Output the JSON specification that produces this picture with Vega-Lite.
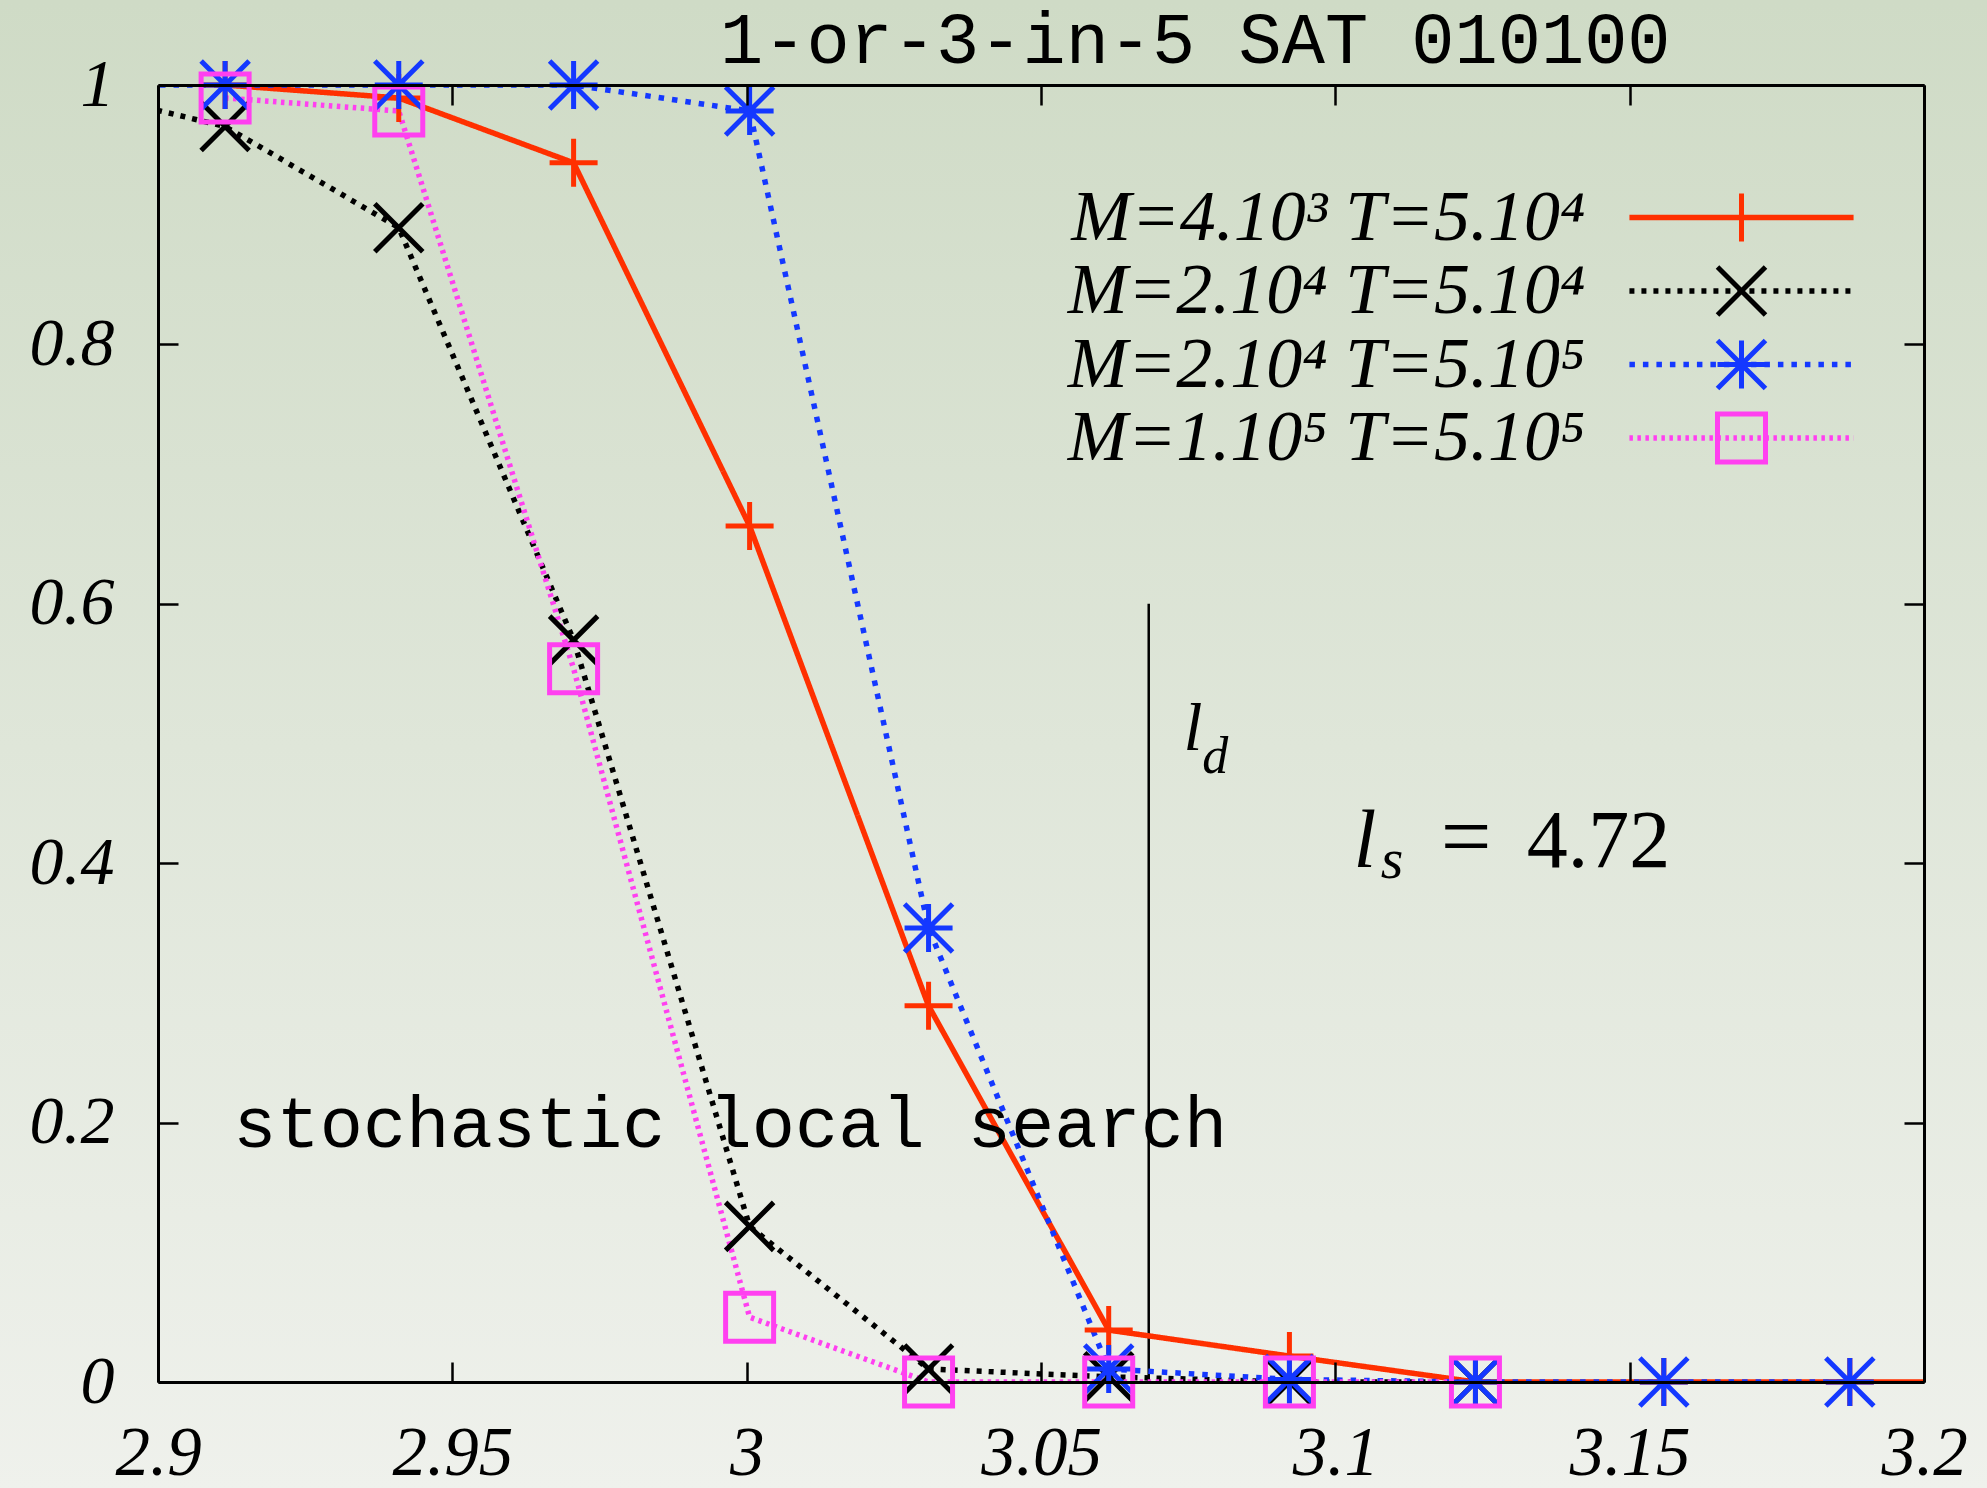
{
  "$schema": "https://vega.github.io/schema/vega-lite/v6.json",
  "width": 1766,
  "height": 1297,
  "autosize": {"type": "none"},
  "padding": {"left": 158, "top": 85, "right": 63, "bottom": 106},
  "background": "#e0e6db",
  "config": {"view": {"stroke": null}},
  "datasets": {
    "curves": [
      {"x": 2.9114, "y": 1.0, "series": "M=4.10³ T=5.10⁴"},
      {"x": 2.9409, "y": 0.99, "series": "M=4.10³ T=5.10⁴"},
      {"x": 2.9706, "y": 0.94, "series": "M=4.10³ T=5.10⁴"},
      {"x": 3.0005, "y": 0.66, "series": "M=4.10³ T=5.10⁴"},
      {"x": 3.0309, "y": 0.29, "series": "M=4.10³ T=5.10⁴"},
      {"x": 3.0615, "y": 0.04, "series": "M=4.10³ T=5.10⁴"},
      {"x": 3.0922, "y": 0.02, "series": "M=4.10³ T=5.10⁴"},
      {"x": 3.1238, "y": 0.0, "series": "M=4.10³ T=5.10⁴"},
      {"x": 3.1558, "y": 0.0, "series": "M=4.10³ T=5.10⁴"},
      {"x": 3.1874, "y": 0.0, "series": "M=4.10³ T=5.10⁴"},
      {"x": 3.219, "y": 0.0, "series": "M=4.10³ T=5.10⁴"},
      {"x": 2.882, "y": 1.0, "series": "M=2.10⁴ T=5.10⁴"},
      {"x": 2.9114, "y": 0.968, "series": "M=2.10⁴ T=5.10⁴"},
      {"x": 2.9409, "y": 0.89, "series": "M=2.10⁴ T=5.10⁴"},
      {"x": 2.9706, "y": 0.572, "series": "M=2.10⁴ T=5.10⁴"},
      {"x": 3.0005, "y": 0.12, "series": "M=2.10⁴ T=5.10⁴"},
      {"x": 3.0309, "y": 0.01, "series": "M=2.10⁴ T=5.10⁴"},
      {"x": 3.0615, "y": 0.004, "series": "M=2.10⁴ T=5.10⁴"},
      {"x": 3.0922, "y": 0.0, "series": "M=2.10⁴ T=5.10⁴"},
      {"x": 3.1238, "y": 0.0, "series": "M=2.10⁴ T=5.10⁴"},
      {"x": 2.882, "y": 1.0, "series": "M=2.10⁴ T=5.10⁵"},
      {"x": 2.9114, "y": 1.0, "series": "M=2.10⁴ T=5.10⁵"},
      {"x": 2.9409, "y": 1.0, "series": "M=2.10⁴ T=5.10⁵"},
      {"x": 2.9706, "y": 1.0, "series": "M=2.10⁴ T=5.10⁵"},
      {"x": 3.0005, "y": 0.98, "series": "M=2.10⁴ T=5.10⁵"},
      {"x": 3.0309, "y": 0.35, "series": "M=2.10⁴ T=5.10⁵"},
      {"x": 3.0615, "y": 0.01, "series": "M=2.10⁴ T=5.10⁵"},
      {"x": 3.0922, "y": 0.002, "series": "M=2.10⁴ T=5.10⁵"},
      {"x": 3.1238, "y": 0.0, "series": "M=2.10⁴ T=5.10⁵"},
      {"x": 3.1558, "y": 0.0, "series": "M=2.10⁴ T=5.10⁵"},
      {"x": 3.1874, "y": 0.0, "series": "M=2.10⁴ T=5.10⁵"},
      {"x": 2.9114, "y": 0.99, "series": "M=1.10⁵ T=5.10⁵"},
      {"x": 2.9409, "y": 0.98, "series": "M=1.10⁵ T=5.10⁵"},
      {"x": 2.9706, "y": 0.55, "series": "M=1.10⁵ T=5.10⁵"},
      {"x": 3.0005, "y": 0.05, "series": "M=1.10⁵ T=5.10⁵"},
      {"x": 3.0309, "y": 0.0, "series": "M=1.10⁵ T=5.10⁵"},
      {"x": 3.0615, "y": 0.0, "series": "M=1.10⁵ T=5.10⁵"},
      {"x": 3.0922, "y": 0.0, "series": "M=1.10⁵ T=5.10⁵"},
      {"x": 3.1238, "y": 0.0, "series": "M=1.10⁵ T=5.10⁵"}
    ]
  },
  "layer": [
    {
      "data": {"values": [{}]},
      "mark": {
        "type": "rect",
        "clip": false,
        "fill": {
          "gradient": "linear",
          "x1": 0, "y1": 0, "x2": 0, "y2": 1,
          "stops": [
            {"offset": 0.03, "color": "#cfdbc6"},
            {"offset": 0.5, "color": "#dfe6d9"},
            {"offset": 0.97, "color": "#eff1ec"}
          ]
        }
      },
      "encoding": {
        "x": {"datum": 2.85, "type": "quantitative", "axis": null},
        "x2": {"datum": 3.25},
        "y": {"datum": 1.1, "type": "quantitative", "axis": null},
        "y2": {"datum": -0.12}
      }
    },
    {
      "data": {"values": [{}]},
      "mark": {"type": "rule", "color": "black", "strokeWidth": 2.5},
      "encoding": {
        "x": {
          "datum": 3.0683, "type": "quantitative",
          "axis": {
            "orient": "top", "values": [2.9, 2.95, 3, 3.05, 3.1, 3.15, 3.2],
            "labels": false, "title": null, "grid": false,
            "tickSize": -20, "tickWidth": 2.5, "tickColor": "black",
            "domainColor": "black", "domainWidth": 3, "zindex": 1
          }
        },
        "y": {
          "datum": 0.6, "type": "quantitative",
          "axis": {
            "orient": "right", "values": [0, 0.2, 0.4, 0.6, 0.8, 1],
            "labels": false, "title": null, "grid": false,
            "tickSize": -20, "tickWidth": 2.5, "tickColor": "black",
            "domainColor": "black", "domainWidth": 3, "zindex": 1
          }
        },
        "y2": {"datum": 0}
      }
    },
    {
      "data": {"name": "curves"},
      "mark": {"type": "line", "clip": true, "strokeWidth": 5.5},
      "encoding": {
        "x": {
          "field": "x", "type": "quantitative",
          "scale": {"domain": [2.9, 3.2], "nice": false, "zero": false},
          "axis": {
            "orient": "bottom", "values": [2.9, 2.95, 3, 3.05, 3.1, 3.15, 3.2],
            "format": "~g", "title": null, "grid": false,
            "tickSize": -20, "tickWidth": 2.5, "tickColor": "black",
            "domainColor": "black", "domainWidth": 3,
            "labelFont": "Liberation Serif", "labelFontStyle": "italic",
            "labelFontSize": 69, "labelColor": "black", "labelPadding": 57,
            "labelFlush": false, "labelOverlap": false, "zindex": 1
          }
        },
        "y": {
          "field": "y", "type": "quantitative",
          "scale": {"domain": [0, 1], "nice": false},
          "axis": {
            "orient": "left", "values": [0, 0.2, 0.4, 0.6, 0.8, 1],
            "format": "~g", "title": null, "grid": false,
            "tickSize": -20, "tickWidth": 2.5, "tickColor": "black",
            "domainColor": "black", "domainWidth": 3,
            "labelFont": "Liberation Serif", "labelFontStyle": "italic",
            "labelFontSize": 68, "labelColor": "black", "labelPadding": 64,
            "labelBaseline": "middle", "labelFlush": false, "labelOverlap": false, "zindex": 1
          }
        },
        "color": {
          "field": "series", "type": "nominal",
          "scale": {
            "domain": ["M=4.10³ T=5.10⁴", "M=2.10⁴ T=5.10⁴", "M=2.10⁴ T=5.10⁵", "M=1.10⁵ T=5.10⁵"],
            "range": ["#ff3000", "#000000", "#1438ff", "#ff40f0"]
          },
          "legend": {
            "orient": "none", "legendX": 1547.5, "legendY": 96.5, "zindex": 2,
            "title": null, "padding": 0, "rowPadding": 1.5,
            "symbolType": "M-4.67,0H4.67", "symbolSize": 2304, "symbolStrokeWidth": 5.5,
            "labelAlign": "right", "labelBaseline": "middle", "labelOffset": -192.5,
            "labelFont": "Liberation Serif", "labelFontStyle": "italic",
            "labelFontSize": 72, "labelColor": "black", "labelLimit": 1000
          }
        },
        "strokeDash": {
          "field": "series", "type": "nominal",
          "scale": {
            "domain": ["M=4.10³ T=5.10⁴", "M=2.10⁴ T=5.10⁴", "M=2.10⁴ T=5.10⁵", "M=1.10⁵ T=5.10⁵"],
            "range": [[1, 0], [5, 7], [5.5, 8], [3.5, 4.5]]
          }
        }
      }
    },
    {
      "data": {"name": "curves"},
      "transform": [{"filter": "datum.x >= 2.9 && datum.x <= 3.2"}],
      "mark": {"type": "point", "filled": false, "strokeWidth": 5, "size": 2304, "opacity": 1},
      "encoding": {
        "x": {"field": "x", "type": "quantitative", "axis": null},
        "y": {"field": "y", "type": "quantitative", "axis": null},
        "color": {
          "field": "series", "type": "nominal",
          "legend": {
            "orient": "none", "legendX": 1547.5, "legendY": 96.5, "zindex": 3,
            "title": null, "padding": 0, "rowPadding": 1.5,
            "symbolSize": 2304, "symbolStrokeWidth": 5,
            "labelExpr": "''", "labelFontSize": 72, "labelLimit": 1000
          }
        },
        "shape": {
          "field": "series", "type": "nominal",
          "scale": {
            "domain": ["M=4.10³ T=5.10⁴", "M=2.10⁴ T=5.10⁴", "M=2.10⁴ T=5.10⁵", "M=1.10⁵ T=5.10⁵"],
            "range": ["M-1,0H1M0,-1V1", "M-1,-1L1,1M-1,1L1,-1", "M-1,0H1M0,-1V1M-1,-1L1,1M-1,1L1,-1", "square"]
          }
        }
      }
    },
    {
      "data": {"values": [{}]},
      "mark": {"type": "text", "text": "1-or-3-in-5 SAT 010100", "font": "Liberation Mono", "fontSize": 72, "align": "left", "baseline": "alphabetic", "color": "black"},
      "encoding": {
        "x": {"datum": 2.99547, "type": "quantitative", "axis": null},
        "y": {"datum": 1.01696, "type": "quantitative", "axis": null}
      }
    },
    {
      "data": {"values": [{}]},
      "mark": {"type": "text", "text": "stochastic local search", "font": "Liberation Mono", "fontSize": 72, "align": "left", "baseline": "alphabetic", "color": "black"},
      "encoding": {
        "x": {"datum": 2.9128, "type": "quantitative", "axis": null},
        "y": {"datum": 0.1812, "type": "quantitative", "axis": null}
      }
    },
    {
      "data": {"values": [{}]},
      "mark": {"type": "text", "text": "l", "font": "Liberation Serif", "fontStyle": "italic", "fontSize": 68, "align": "left", "baseline": "alphabetic", "color": "black"},
      "encoding": {
        "x": {"datum": 3.0742, "type": "quantitative", "axis": null},
        "y": {"datum": 0.4873, "type": "quantitative", "axis": null}
      }
    },
    {
      "data": {"values": [{}]},
      "mark": {"type": "text", "text": "d", "font": "Liberation Serif", "fontStyle": "italic", "fontSize": 52, "align": "left", "baseline": "alphabetic", "color": "black"},
      "encoding": {
        "x": {"datum": 3.0774, "type": "quantitative", "axis": null},
        "y": {"datum": 0.4696, "type": "quantitative", "axis": null}
      }
    },
    {
      "data": {"values": [{}]},
      "mark": {"type": "text", "text": "l", "font": "Liberation Serif", "fontStyle": "italic", "fontSize": 82, "align": "left", "baseline": "alphabetic", "color": "black"},
      "encoding": {
        "x": {"datum": 3.1031, "type": "quantitative", "axis": null},
        "y": {"datum": 0.3971, "type": "quantitative", "axis": null}
      }
    },
    {
      "data": {"values": [{}]},
      "mark": {"type": "text", "text": "s", "font": "Liberation Serif", "fontStyle": "italic", "fontSize": 58, "align": "left", "baseline": "alphabetic", "color": "black"},
      "encoding": {
        "x": {"datum": 3.1077, "type": "quantitative", "axis": null},
        "y": {"datum": 0.3886, "type": "quantitative", "axis": null}
      }
    },
    {
      "data": {"values": [{}]},
      "mark": {"type": "text", "text": "=", "font": "Liberation Serif", "fontSize": 90, "align": "left", "baseline": "alphabetic", "color": "black"},
      "encoding": {
        "x": {"datum": 3.1179, "type": "quantitative", "axis": null},
        "y": {"datum": 0.3971, "type": "quantitative", "axis": null}
      }
    },
    {
      "data": {"values": [{}]},
      "mark": {"type": "text", "text": "4.72", "font": "Liberation Serif", "fontSize": 82, "align": "left", "baseline": "alphabetic", "color": "black"},
      "encoding": {
        "x": {"datum": 3.1325, "type": "quantitative", "axis": null},
        "y": {"datum": 0.3971, "type": "quantitative", "axis": null}
      }
    }
  ],
  "resolve": {
    "axis": {"x": "independent", "y": "independent"},
    "legend": {"color": "independent", "shape": "independent", "strokeDash": "independent"}
  }
}
